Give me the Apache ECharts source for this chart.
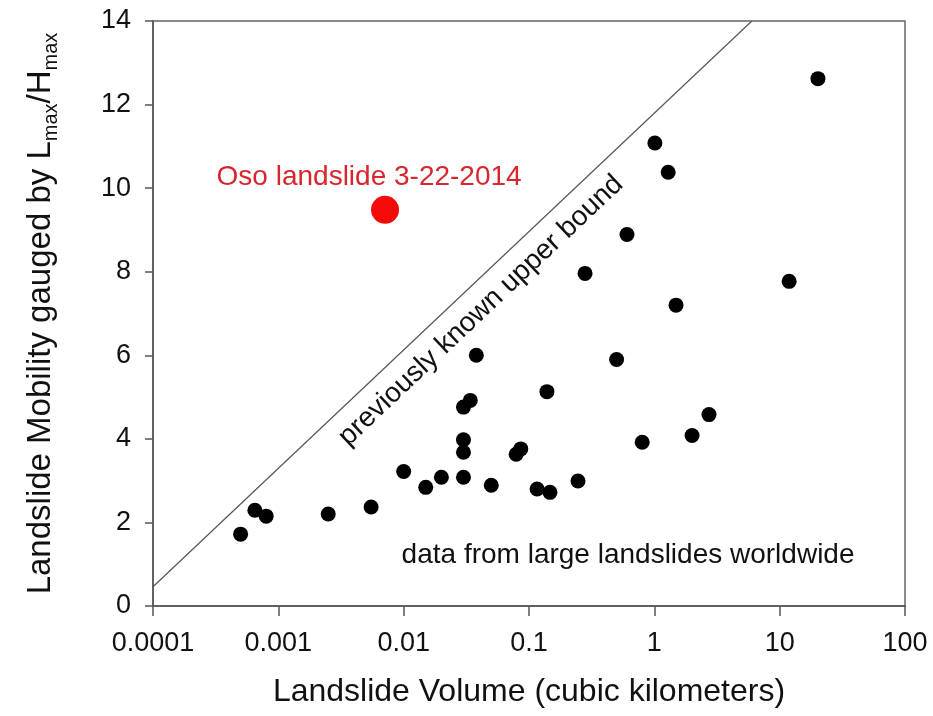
<!DOCTYPE html>
<html>
<head>
<meta charset="utf-8">
<script src="https://cdn.jsdelivr.net/npm/echarts@6/dist/echarts.min.js"></script>
<style>
  html, body { margin: 0; padding: 0; background: #fff; }
  #chart { width: 933px; height: 716px; }
</style>
</head>
<body>
<div id="chart"></div>
<script>
// landslide volume (km^3) and mobility Lmax/Hmax
const volumes = [
  0.0005, 0.00065, 0.0008, 0.0025, 0.0055, 0.01, 0.015, 0.02,
  0.03, 0.03, 0.03, 0.03, 0.034, 0.038, 0.05, 0.079, 0.086,
  0.116, 0.147, 0.139, 0.246, 0.28, 0.5, 0.605, 0.8,
  1.01, 1.29, 1.49, 2.0, 2.73, 11.9, 20.2
]
const mobility = [
  1.72, 2.29, 2.15, 2.2, 2.37, 3.22, 2.84, 3.08,
  3.08, 3.68, 3.98, 4.76, 4.92, 6.0, 2.89, 3.63, 3.76,
  2.8, 2.72, 5.13, 2.99, 7.96, 5.9, 8.89, 3.92,
  11.08, 10.38, 7.2, 4.08, 4.58, 7.77, 12.62
]

// Oso landslide 3-22-2014
const osoVolume = [0.0071]
const osoMobility = [9.48]

// previously known upper bound (straight line on the log axis)
const boundVolume = [0.0001, 6.0]
const boundMobility = [0.46, 14]

const xTickLabels = ['0.0001', '0.001', '0.01', '0.1', '1', '10', '100']
const yTicks = [0, 2, 4, 6, 8, 10, 12, 14]

const font = '"Liberation Sans", Arial, sans-serif'
const ink = '#111'
const axisGrey = '#555'

const chart = echarts.init(document.getElementById('chart'))

const pairs = (xs, ys) => xs.map((x, i) => [x, ys[i]])

const option = {
  backgroundColor: '#fff',
  animation: false,
  grid: {
    left: 153,
    right: 28,
    top: 21,
    bottom: 110,
    show: true,
    borderColor: '#666',
    borderWidth: 1.5
  },
  xAxis: {
    type: 'log',
    logBase: 10,
    min: 0.0001,
    max: 100,
    name: 'Landslide Volume (cubic kilometers)',
    nameLocation: 'middle',
    nameGap: 70,
    nameTextStyle: { fontFamily: font, fontSize: 32, color: ink },
    axisLine: { lineStyle: { color: axisGrey, width: 1.5 } },
    axisTick: { inside: false, length: 10, lineStyle: { color: axisGrey, width: 1.5 } },
    minorTick: { show: false },
    splitLine: { show: false },
    axisLabel: {
      margin: 24,
      fontFamily: font,
      fontSize: 27,
      color: ink,
      formatter: v => xTickLabels[Math.round(Math.log10(v)) + 4]
    }
  },
  yAxis: {
    type: 'value',
    min: yTicks[0],
    max: yTicks[yTicks.length - 1],
    interval: 2,
    name: '{a|Landslide Mobility gauged by L}{s|max}{a|/H}{s|max}',
    nameLocation: 'middle',
    nameGap: 92,
    nameTextStyle: {
      rich: {
        a: { fontFamily: font, fontSize: 33, color: ink, lineHeight: 40 },
        s: { fontFamily: font, fontSize: 20, color: ink, lineHeight: 20, verticalAlign: 'bottom' }
      }
    },
    axisLine: { lineStyle: { color: axisGrey, width: 1.5 } },
    axisTick: { inside: false, length: 8, lineStyle: { color: axisGrey, width: 1.5 } },
    splitLine: { show: false },
    axisLabel: { margin: 22, fontFamily: font, fontSize: 27, color: ink }
  },
  series: [
    {
      name: 'upper bound',
      type: 'line',
      data: pairs(boundVolume, boundMobility),
      showSymbol: false,
      lineStyle: { color: '#555', width: 1.2 },
      z: 1
    },
    {
      name: 'worldwide',
      type: 'scatter',
      data: pairs(volumes, mobility),
      symbolSize: 15,
      itemStyle: { color: '#000', opacity: 1 },
      z: 3
    },
    {
      name: 'Oso',
      type: 'scatter',
      data: pairs(osoVolume, osoMobility),
      symbolSize: 28,
      itemStyle: { color: '#f50a0a', opacity: 1 },
      z: 3
    },
    {
      // text annotations anchored in data coordinates
      name: 'notes',
      type: 'scatter',
      symbolSize: 0,
      silent: true,
      z: 4,
      itemStyle: { opacity: 1 },
      label: {
        show: true,
        position: 'inside',
        fontFamily: font,
        fontSize: 28,
        color: ink,
        formatter: p => p.data.text
      },
      data: [
        { value: [0.0053, 10.27], text: 'Oso landslide 3-22-2014', label: { color: '#d8262e' } },
        { value: [0.0414, 7.07], text: 'previously known upper bound', label: { rotate: 43.4 } },
        { value: [0.617, 1.22], text: 'data from large landslides worldwide' }
      ]
    }
  ]
}

chart.setOption(option)
</script>
</body>
</html>
